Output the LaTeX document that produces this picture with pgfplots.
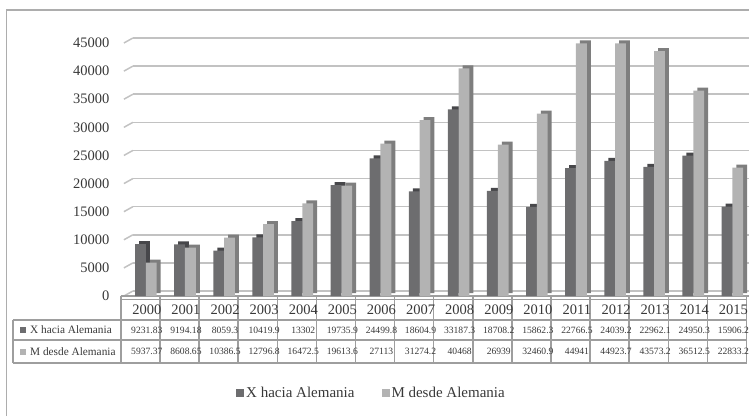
\documentclass[border=0pt]{standalone}
\usepackage{pgfplots}
\pgfplotsset{compat=1.18}
\usepackage{pgfplotstable}
\usepackage{fontspec}
\setmainfont{Liberation Serif}

\definecolor{xdark}{HTML}{6D6D6F}
\definecolor{xside}{HTML}{47474A}
\definecolor{mlight}{HTML}{B3B3B3}
\definecolor{mside}{HTML}{7E7E7E}
\definecolor{gridc}{HTML}{C2C2C2}
\definecolor{tabc}{HTML}{9E9E9E}
\definecolor{txt}{HTML}{383838}

% year, exports to Germany (X), imports from Germany (M)
\pgfplotstableread{
x year X M
0 2000 9231.83 5937.37
1 2001 9194.18 8608.65
2 2002 8059.3 10386.5
3 2003 10419.9 12796.8
4 2004 13302 16472.5
5 2005 19735.9 19613.6
6 2006 24499.8 27113
7 2007 18604.9 31274.2
8 2008 33187.3 40468
9 2009 18708.2 26939
10 2010 15862.3 32460.9
11 2011 22766.5 44941
12 2012 24039.2 44923.7
13 2013 22962.1 43573.2
14 2014 24950.3 36512.5
15 2015 15906.2 22833.2
}\datatable

\begin{document}
\begin{tikzpicture}[x=1pt,y=1pt]
\path[use as bounding box] (0,0) rectangle (749,416);
\draw[tabc!85, line width=1.5pt] (6.7,0) -- (6.7,406) -- (749,406);

% slanted front edges of the back-wall gridlines (0 to 45000 in steps of 5000)
\foreach \k in {0,...,9}
  \draw[gridc, line width=1.5pt] (123.9,120+\k*28.111) -- ++(9,5);

\begin{axis}[
    at={(120.9pt,120pt)}, anchor=south west,
    scale only axis, width=625.6pt, height=253pt,
    xmin=-0.5, xmax=15.5, ymin=0, ymax=45000,
    clip=false,
    axis line style={draw=none}, tick style={draw=none},
    xtick=\empty, ytick={0,5000,10000,15000,20000,25000,30000,35000,40000,45000},
    scaled y ticks=false,
    ymajorgrids,
    major grid style={draw=gridc, line width=1.5pt, xshift=12pt, yshift=5pt},
    yticklabel style={font=\fontsize{14.5}{16}\selectfont, text=txt, xshift=-8pt},
    /pgf/number format/1000 sep={},
    /pgf/number format/assume math mode=true,
    ybar, bar width=10.8pt,
    legend columns=-1,
    legend style={at={(0.4006,-0.383)}, anchor=center, draw=none, fill=none,
      font=\fontsize{15}{18}\selectfont, text=txt,
      /tikz/every even column/.append style={column sep=25pt}},
    legend image code/.code={\fill[#1] (0pt,-4pt) rectangle (8pt,4pt);},
  ]

  \draw[tabc, line width=1.5pt] (axis cs:-0.5,0) -- ([xshift=2.5pt]axis cs:15.5,0);

  % data table grid
  \pgfplotsinvokeforeach{-0.5,0.5,...,15.5}{
    \draw[tabc, line width=1.5pt] (axis cs:#1,0) -- ([yshift=-67pt]axis cs:#1,0);
  }
  \draw[tabc, line width=1.5pt] ([yshift=-3.5pt]axis cs:-0.5,0) -- ([yshift=-3.5pt]axis cs:15.5,0);
  \draw[tabc, line width=1.5pt] ([yshift=-24pt,xshift=-107.9pt]axis cs:-0.5,0) -- ([yshift=-24pt]axis cs:15.5,0);
  \draw[tabc, line width=1.5pt] ([yshift=-44pt,xshift=-107.9pt]axis cs:-0.5,0) -- ([yshift=-44pt]axis cs:15.5,0);
  \draw[tabc, line width=1.5pt] ([yshift=-67pt,xshift=-107.9pt]axis cs:-0.5,0) -- ([yshift=-67pt]axis cs:15.5,0);
  \draw[tabc, line width=1.5pt] ([yshift=-24pt,xshift=-107.9pt]axis cs:-0.5,0) -- ([yshift=-67pt,xshift=-107.9pt]axis cs:-0.5,0);

  % bars: a darker copy behind gives the side and top faces
  \addplot[fill=xside, draw=none, bar shift=4pt, yshift=3pt, forget plot] table[x=x,y=X]{\datatable};
  \addplot[fill=xdark, draw=none, bar shift=0pt] table[x=x,y=X]{\datatable};
  \addlegendentry{X hacia Alemania}
  \addplot[fill=mside, draw=none, bar shift=14.8pt, yshift=3pt, forget plot] table[x=x,y=M]{\datatable};
  \addplot[fill=mlight, draw=none, bar shift=10.8pt] table[x=x,y=M]{\datatable};
  \addlegendentry{M desde Alemania}

  % table text
  \addplot[sharp plot, draw=none, mark=none, forget plot,
    nodes near coords, point meta=explicit symbolic,
    every node near coord/.append style={anchor=center, inner sep=0pt, text=txt,
      font=\fontsize{14.5}{16}\selectfont}]
    table[x=x, y expr=-2400, meta=year]{\datatable};
  \addplot[sharp plot, draw=none, mark=none, forget plot,
    nodes near coords, point meta=explicit symbolic,
    every node near coord/.append style={anchor=center, inner sep=0pt, text=txt,
      font=\fontsize{9.6}{12}\selectfont}]
    table[x=x, y expr=-6047, meta=X]{\datatable};
  \addplot[sharp plot, draw=none, mark=none, forget plot,
    nodes near coords, point meta=explicit symbolic,
    every node near coord/.append style={anchor=center, inner sep=0pt, text=txt,
      font=\fontsize{9.6}{12}\selectfont}]
    table[x=x, y expr=-9872, meta=M]{\datatable};
\end{axis}

\fill[xdark] (20,83) rectangle (26,89);
\node[anchor=west, inner sep=0pt, text=txt, font=\fontsize{11.3}{13}\selectfont] at (30,86) {X hacia Alemania};
\fill[mlight] (20,61.5) rectangle (26,67.5);
\node[anchor=west, inner sep=0pt, text=txt, font=\fontsize{11.3}{13}\selectfont] at (30,64.5) {M desde Alemania};
\end{tikzpicture}
\end{document}
